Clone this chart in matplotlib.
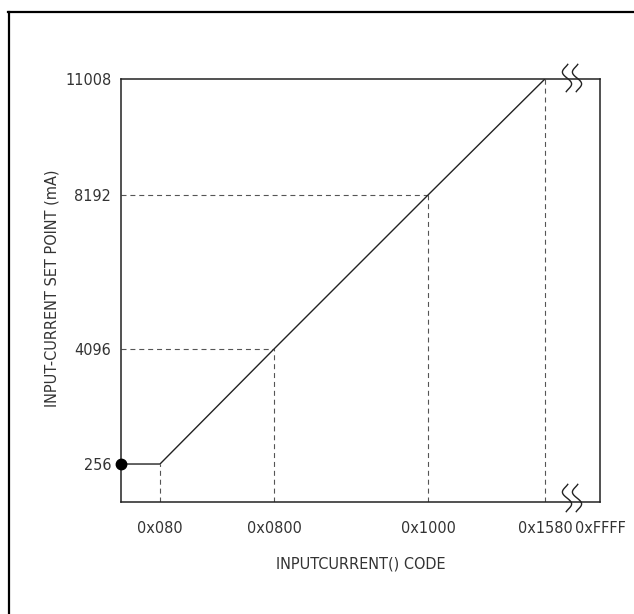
import numpy as np
import matplotlib
matplotlib.use("Agg")
import matplotlib.pyplot as plt
from matplotlib import font_manager
from matplotlib.lines import Line2D

# ---- data ----
codes = [0x000, 0x080, 0x0800, 0x1000, 0x1580]
currents = [256, 256, 4096, 8192, 11008]
x_tick_values = [0x080, 0x0800, 0x1000, 0x1580, 0xFFFF]
x_tick_labels = ["0x080", "0x0800", "0x1000", "0x1580", "0xFFFF"]
y_tick_values = [256, 4096, 8192, 11008]
y_tick_labels = ["256", "4096", "8192", "11008"]
guide_codes = [0x080, 0x0800, 0x1000, 0x1580]
guide_currents = [256, 4096, 8192, 11008]
h_guides = [4096, 8192]
x_label = "INPUTCURRENT() CODE"
y_label = "INPUT-CURRENT SET POINT (mA)"

# ---- schematic (non-proportional) axis layout ----
x_anchor_vals = [0, 0x080, 0x0800, 0x1000, 0x1580, 0xFFFF]
x_anchor_frac = [0.0, 0.0814, 0.3194, 0.641, 0.885, 1.0]
y_anchor_vals = [0, 256, 4096, 8192, 11008]
y_anchor_frac = [0.0, 0.0898, 0.3617, 0.7258, 1.0]

# ---- pick a narrow font if one is available ----
fam, fsize, stretch = "Roboto", 11.2, "normal"
cands = []
for f in font_manager.fontManager.ttflist:
    n = f.name.lower()
    if ("narrow" in n or "condensed" in n or str(f.stretch) in ("condensed", "semi-condensed")) and f.style == "normal":
        cands.append(f)
if cands:
    pref = sorted(cands, key=lambda f: (0 if "liberation" in f.name.lower() else 1,
                                        0 if f.weight in (400, "normal", "regular") else 1))
    fam, fsize, stretch = pref[0].name, 11.6, pref[0].stretch
plt.rcParams['font.family'] = [fam, 'DejaVu Sans']
plt.rcParams['font.stretch'] = stretch
txt_col = "#333333"
line_col = "#222222"

fig = plt.figure(figsize=(6.34, 6.14), dpi=100)
ax = fig.add_axes([121/634, 1-502/614, 479/634, 423/614])

def fx(v):
    return np.interp(v, x_anchor_vals, x_anchor_frac)
def fxi(f):
    return np.interp(f, x_anchor_frac, x_anchor_vals)
def fy(v):
    return np.interp(v, y_anchor_vals, y_anchor_frac)
def fyi(f):
    return np.interp(f, y_anchor_frac, y_anchor_vals)

ax.set_xscale('function', functions=(fx, fxi))
ax.set_yscale('function', functions=(fy, fyi))
ax.set_xlim(0, 0xFFFF)
ax.set_ylim(0, 11008)

dash = dict(color="#555555", lw=0.8, dashes=(4.5, 3.5))
for c, i in zip(guide_codes, guide_currents):
    ax.plot([c, c], [0, i], **dash)
for i, c in zip(guide_currents, guide_codes):
    if i in h_guides:
        ax.plot([0, c], [i, i], **dash)

ax.plot(codes, currents, color=line_col, lw=1.0, solid_capstyle='butt')
ax.plot([codes[0]], [currents[0]], 'o', color='black', ms=7.5, clip_on=False, zorder=5)

for s in ax.spines.values():
    s.set_linewidth(1.1)
    s.set_color(line_col)

ax.set_xticks(x_tick_values)
ax.set_xticklabels(x_tick_labels)
ax.set_yticks(y_tick_values)
ax.set_yticklabels(y_tick_labels)
ax.xaxis.set_minor_locator(matplotlib.ticker.NullLocator())
ax.yaxis.set_minor_locator(matplotlib.ticker.NullLocator())
ax.tick_params(axis='both', length=0, labelsize=fsize, labelcolor=txt_col)
ax.tick_params(axis='x', pad=14)
ax.tick_params(axis='y', pad=7)
for lbl in ax.get_xticklabels():
    if lbl.get_text() == "0xFFFF":
        lbl.set_x(lbl.get_position()[0])

fig.text(360.5/634, 1-564/614, x_label, ha='center', va='center', fontsize=fsize, color=txt_col)
fig.text(52/634, 1-288/614, y_label, ha='center', va='center', rotation=90, fontsize=fsize, color=txt_col)

# axis break marks (two elongated S shapes)
t = np.linspace(-0.12, 1.12, 80)
def brk(xc_px, yc_px):
    for dx in (-5, 5):
        xs = xc_px + dx - 3.8*np.sin(2*np.pi*t) + 3.0*(t-0.5)
        ys = yc_px - 11 + 22*t
        ax.plot((xs-121)/479, (502-ys)/423, color=line_col, lw=1.0,
                transform=ax.transAxes, clip_on=False, zorder=6)
brk(572, 78)
brk(572, 498)

# outer frame (left and top edges)
fig.add_artist(Line2D([9/634, 9/634], [0, 1-12/614], color='black', lw=1.6))
fig.add_artist(Line2D([9/634 - 0.8/634, 1], [1-12/614, 1-12/614], color='black', lw=1.6))

fig.savefig("out.png", dpi=100)
